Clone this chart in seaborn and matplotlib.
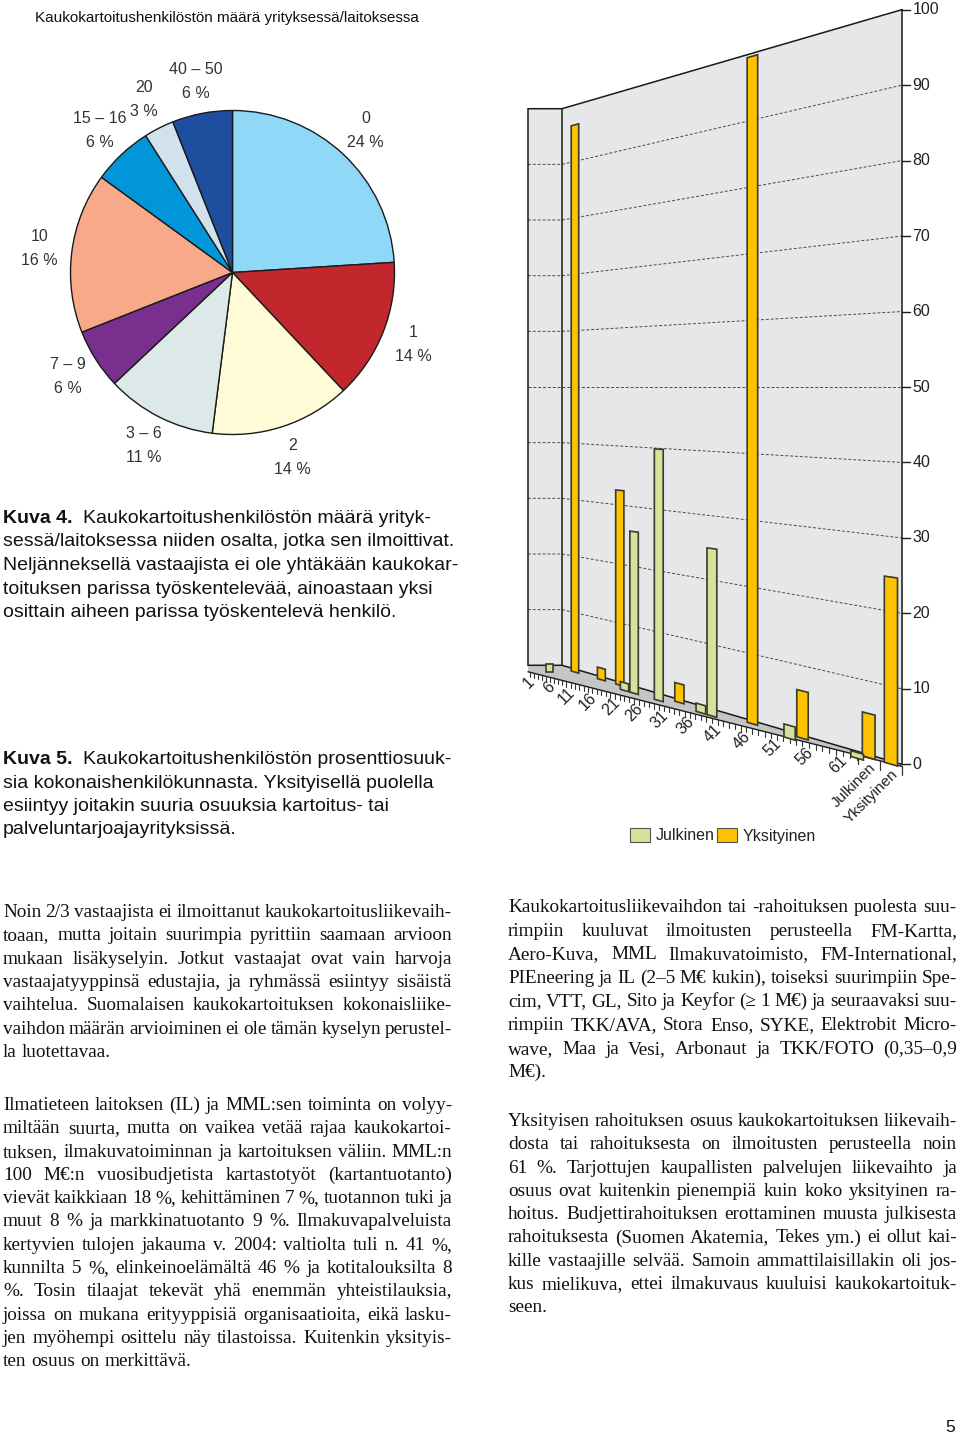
import numpy as np
import pandas as pd
import matplotlib
matplotlib.use("Agg")
import matplotlib.pyplot as plt
import matplotlib.transforms as mtransforms
from matplotlib.font_manager import FontProperties
from matplotlib.patches import Rectangle, Polygon
import seaborn as sns

# --- pie: staff count per organisation ---
pie_labels = ["0", "1", "2", "3 – 6", "7 – 9", "10", "15 – 16", "20", "40 – 50"]
pie_pct = [24, 14, 14, 11, 6, 16, 6, 3, 6]
pie_colors = ["#8fd8f7", "#c1272d", "#fffbd6", "#dde9e8", "#7a2f8f",
              "#f7a98a", "#0096d9", "#d2e1ee", "#1e4f9e"]

# --- bars: share of remote sensing staff (%) per respondent ---
julkinen_ids = [6, 23, 25, 30, 38, 40, 53, 63]
julkinen_vals = [1.4, 1.3, 27, 41, 1.3, 26, 1.9, 0.8]
yksityinen_ids = [12, 18, 22, 34, 47, 55]
yksityinen_vals = [97, 2, 33, 3, 100, 6.8]
summary_labels = ["Julkinen", "Yksityinen"]
summary_vals = [6, 25]
n_companies = 63
value_ticks = list(range(0, 101, 10))
cat_ticks = list(range(1, 62, 5))

GREEN = "#d3e49a"
YELLOW = "#fdc300"
EDGE = "#3b3a2c"

sns.set_style("white")
plt.rcParams["font.family"] = ["Liberation Sans", "DejaVu Sans"]

W, H = 960, 1436
fig = plt.figure(figsize=(W / 100, H / 100), dpi=100)
page = fig.add_axes([0, 0, 1, 1])
page.set_xlim(0, W)
page.set_ylim(H, 0)
page.axis("off")

# ---------------------------------------------------------------- perspective
# category position u / value v  ->  page pixels
PA, PB, PC = 1.6552, 526.12, -0.0041988
PK, PVX, PVY = 0.005828, 393.0, 387.0
X_CORNER = 562.0


class WallProjection(mtransforms.Transform):
    input_dims = 2
    output_dims = 2
    is_separable = False

    def transform_non_affine(self, values):
        values = np.asarray(values, dtype=float).reshape(-1, 2)
        u, v = values[:, 0], values[:, 1]
        x = (PA * u + PB) / (PC * u + 1)
        s = PK * (np.maximum(x, X_CORNER) + PVX)
        y = PVY + (50 - v) * s
        return np.column_stack([x, y])


def u_of_x(x):
    return (x - PB) / (PA - PC * x)


proj = WallProjection()
to_page = proj + page.transData
U0 = u_of_x(528)
UW = u_of_x(X_CORNER)
slot_start = n_companies + 0.1
UEND = slot_start + 2 * 3
summary_x = [slot_start + 1.5 + 3 * k for k in range(len(summary_labels))]

# walls
wall = Polygon([(U0, 0), (UW, 0), (UEND, 0), (UEND, 100), (UW, 100), (U0, 100)],
               closed=True, facecolor="#e6e7e8", edgecolor="none", transform=to_page)
page.add_patch(wall)
for v in value_ticks[1:-1]:
    page.plot([U0, UW, UEND], [v, v, v], transform=to_page, color="#4a4a4a",
              lw=0.7, ls=(0, (3, 2)))
page.plot([U0, UW, UEND], [100, 100, 100], transform=to_page, color="#1a1a1a", lw=1.1)
page.plot([U0, U0], [0, 100], transform=to_page, color="#1a1a1a", lw=1.1)
page.plot([UW, UW], [0, 100], transform=to_page, color="#1a1a1a", lw=1.1)

# floor slab
p_end = proj.transform([[UEND, 0]])[0]
p_left = proj.transform([[U0, 0]])[0]
front0 = np.array([p_left[0], p_left[1] + 6.5])
front1 = np.array([p_end[0], p_end[1] + 2.0])
base_pts = proj.transform([[U0, 0], [UW, 0], [UEND, 0]])
floor = Polygon(np.vstack([base_pts, [front1, front0]]), closed=True,
                facecolor="#c4c5c7", edgecolor="none")
page.add_patch(floor)
page.plot(base_pts[:, 0], base_pts[:, 1], color="#1a1a1a", lw=1.1)
page.plot([front0[0], front1[0]], [front0[1], front1[1]], color="#1a1a1a", lw=1.0)


def front_y(x):
    return front0[1] + (x - front0[0]) / (front1[0] - front0[0]) * (front1[1] - front0[1])


tick_u = np.arange(1, n_companies + 1)
tick_x = proj.transform(np.column_stack([tick_u, np.zeros_like(tick_u)]))[:, 0]
for x in tick_x:
    page.plot([x, x], [front_y(x), front_y(x) + 5], color="#333333", lw=0.8)
for u in [slot_start, slot_start + 3, UEND]:
    x = proj.transform([[u, 0]])[0][0]
    page.plot([x, x], [front_y(x), front_y(x) + 9], color="#333333", lw=0.9)

for c in cat_ticks:
    x = proj.transform([[c, 0]])[0][0]
    page.text(x + 2, front_y(x) + 7, str(c), rotation=45, rotation_mode="anchor",
              ha="right", va="center", fontsize=11.5, color="#222222")
for lab, u in zip(summary_labels, summary_x):
    x = proj.transform([[u, 0]])[0][0]
    page.text(x + 5, front_y(x) + 8, lab, rotation=45, rotation_mode="anchor",
              ha="right", va="center", fontsize=11, color="#222222")

# right value axis
ax_pts = proj.transform(np.column_stack([np.full(len(value_ticks), UEND), value_ticks]))
page.plot([ax_pts[0, 0], ax_pts[-1, 0]], [ax_pts[0, 1], ax_pts[-1, 1]], color="#1a1a1a", lw=1.1)
for (x, y), v in zip(ax_pts, value_ticks):
    page.plot([x, x + 8], [y, y], color="#1a1a1a", lw=1.0)
    page.text(x + 10, y, str(v), ha="left", va="center", fontsize=11.5, color="#222222")

# bars through seaborn, then mapped into the perspective
bars = pd.DataFrame({
    "u": julkinen_ids + yksityinen_ids + summary_x,
    "value": julkinen_vals + yksityinen_vals + summary_vals,
    "series": (["Julkinen"] * len(julkinen_ids) + ["Yksityinen"] * len(yksityinen_ids)
               + ["Yhteensä"] * len(summary_vals)),
})
bar_ax = fig.add_axes([0, 0, 1, 1])
sns.barplot(data=bars, x="u", y="value", hue="series", native_scale=True, dodge=False,
            width=1.75, errorbar=None, legend=False, saturation=1,
            palette={"Julkinen": GREEN, "Yksityinen": YELLOW, "Yhteensä": YELLOW},
            edgecolor=EDGE, linewidth=1.2, ax=bar_ax)
bar_ax.axis("off")
front_row = mtransforms.Affine2D().translate(0, 7)
back_row = mtransforms.Affine2D().translate(0, 3)
for p in bar_ax.patches:
    is_front = p.get_facecolor()[:3] == matplotlib.colors.to_rgb(GREEN)
    shift = front_row if is_front else back_row
    p.set_transform(proj + shift + page.transData)
    p.set_clip_on(False)
    p.set_zorder(3 if is_front else 2)

# legend
for x0, col, lab in [(630, GREEN, "Julkinen"), (717, YELLOW, "Yksityinen")]:
    page.add_patch(Rectangle((x0, 828), 20, 14, facecolor=col, edgecolor="#555555", lw=0.8))
    page.text(x0 + 26, 836, lab, ha="left", va="center", fontsize=11.5, color="#222222")

# ---------------------------------------------------------------- pie
cx, cy, r = 232.5, 272.5, 162
pie_ax = fig.add_axes([(cx - r) / W, 1 - (cy + r) / H, 2 * r / W, 2 * r / H])
wedges, texts = pie_ax.pie(
    pie_pct, colors=pie_colors, startangle=90, counterclock=False,
    labels=[f"{c}\n{p} %" for c, p in zip(pie_labels, pie_pct)], labeldistance=1.2,
    wedgeprops=dict(edgecolor="#1a1a1a", linewidth=1.0),
    textprops=dict(fontsize=11.5, color="#333333", linespacing=1.75))
for t in texts:
    t.set_ha("center")
    t.set_va("center")
pie_ax.set_xlim(-1, 1)
pie_ax.set_ylim(-1, 1)
pie_ax.set_aspect("equal")

page.text(35, 18, "Kaukokartoitushenkilöstön määrä yrityksessä/laitoksessa",
          ha="left", va="center", fontsize=11, color="#111111")

# ---------------------------------------------------------------- text
renderer = fig.canvas.get_renderer()
sans = FontProperties(family=["Liberation Sans", "DejaVu Sans"], size=14.0)
sans_b = FontProperties(family=["Liberation Sans", "DejaVu Sans"], size=14.0, weight="bold")
serif = FontProperties(family=["Liberation Serif", "DejaVu Serif"], size=13.9)


def text_w(s, fp):
    return renderer.get_text_width_height_descent(s, fp, ismath=False)[0]


def caption(label, lines, x0, y0, lead=23.5):
    page.text(x0, y0, label, fontproperties=sans_b, ha="left", va="baseline", color="#111111")
    xs = x0 + text_w(label + "  ", sans_b)
    for i, line in enumerate(lines):
        page.text(xs if i == 0 else x0, y0 + i * lead, line, fontproperties=sans,
                  ha="left", va="baseline", color="#111111")


def justified(lines, x0, width, y0, lead=23.3):
    space = text_w("a a", serif) - text_w("aa", serif)
    for i, line in enumerate(lines):
        words = line.split(" ")
        widths = [text_w(w, serif) for w in words]
        last = i == len(lines) - 1
        gap = space if (last or len(words) == 1) else (width - sum(widths)) / (len(words) - 1)
        x = x0
        for w, wd in zip(words, widths):
            page.text(x, y0 + i * lead, w, fontproperties=serif, ha="left",
                      va="baseline", color="#111111")
            x += wd + gap


caption("Kuva 4.", [
    "Kaukokartoitushenkilöstön määrä yrityk-",
    "sessä/laitoksessa niiden osalta, jotka sen ilmoittivat.",
    "Neljänneksellä vastaajista ei ole yhtäkään kaukokar-",
    "toituksen parissa työskentelevää, ainoastaan yksi",
    "osittain aiheen parissa työskentelevä henkilö.",
], 3, 523)

caption("Kuva 5.", [
    "Kaukokartoitushenkilöstön prosenttiosuuk-",
    "sia kokonaishenkilökunnasta. Yksityisellä puolella",
    "esiintyy joitakin suuria osuuksia kartoitus- tai",
    "palveluntarjoajayrityksissä.",
], 3, 764)

justified([
    "Noin 2/3 vastaajista ei ilmoittanut kaukokartoitusliikevaih-",
    "toaan, mutta joitain suurimpia pyrittiin saamaan arvioon",
    "mukaan lisäkyselyin. Jotkut vastaajat ovat vain harvoja",
    "vastaajatyyppinsä edustajia, ja ryhmässä esiintyy sisäistä",
    "vaihtelua. Suomalaisen kaukokartoituksen kokonaisliike-",
    "vaihdon määrän arvioiminen ei ole tämän kyselyn perustel-",
    "la luotettavaa.",
], 3, 449, 917)

justified([
    "Ilmatieteen laitoksen (IL) ja MML:sen toiminta on volyy-",
    "miltään suurta, mutta on vaikea vetää rajaa kaukokartoi-",
    "tuksen, ilmakuvatoiminnan ja kartoituksen väliin. MML:n",
    "100 M€:n vuosibudjetista kartastotyöt (kartantuotanto)",
    "vievät kaikkiaan 18 %, kehittäminen 7 %, tuotannon tuki ja",
    "muut 8 % ja markkinatuotanto 9 %. Ilmakuvapalveluista",
    "kertyvien tulojen jakauma v. 2004: valtiolta tuli n. 41 %,",
    "kunnilta 5 %, elinkeinoelämältä 46 % ja kotitalouksilta 8",
    "%. Tosin tilaajat tekevät yhä enemmän yhteistilauksia,",
    "joissa on mukana erityyppisiä organisaatioita, eikä lasku-",
    "jen myöhempi osittelu näy tilastoissa. Kuitenkin yksityis-",
    "ten osuus on merkittävä.",
], 3, 449, 1110)

justified([
    "Kaukokartoitusliikevaihdon tai -rahoituksen puolesta suu-",
    "rimpiin kuuluvat ilmoitusten perusteella FM-Kartta,",
    "Aero-Kuva, MML Ilmakuvatoimisto, FM-International,",
    "PIEneering ja IL (2–5 M€ kukin), toiseksi suurimpiin Spe-",
    "cim, VTT, GL, Sito ja Keyfor (≥ 1 M€) ja seuraavaksi suu-",
    "rimpiin TKK/AVA, Stora Enso, SYKE, Elektrobit Micro-",
    "wave, Maa ja Vesi, Arbonaut ja TKK/FOTO (0,35–0,9",
    "M€).",
], 508, 449, 912, lead=23.6)

justified([
    "Yksityisen rahoituksen osuus kaukokartoituksen liikevaih-",
    "dosta tai rahoituksesta on ilmoitusten perusteella noin",
    "61 %. Tarjottujen kaupallisten palvelujen liikevaihto ja",
    "osuus ovat kuitenkin pienempiä kuin koko yksityinen ra-",
    "hoitus. Budjettirahoituksen erottaminen muusta julkisesta",
    "rahoituksesta (Suomen Akatemia, Tekes ym.) ei ollut kai-",
    "kille vastaajille selvää. Samoin ammattilaisillakin oli jos-",
    "kus mielikuva, ettei ilmakuvaus kuuluisi kaukokartoituk-",
    "seen.",
], 508, 449, 1126)

page.text(955, 1428, "5", ha="right", va="center", fontsize=12.5, color="#111111")

fig.savefig("out.png", dpi=100)
